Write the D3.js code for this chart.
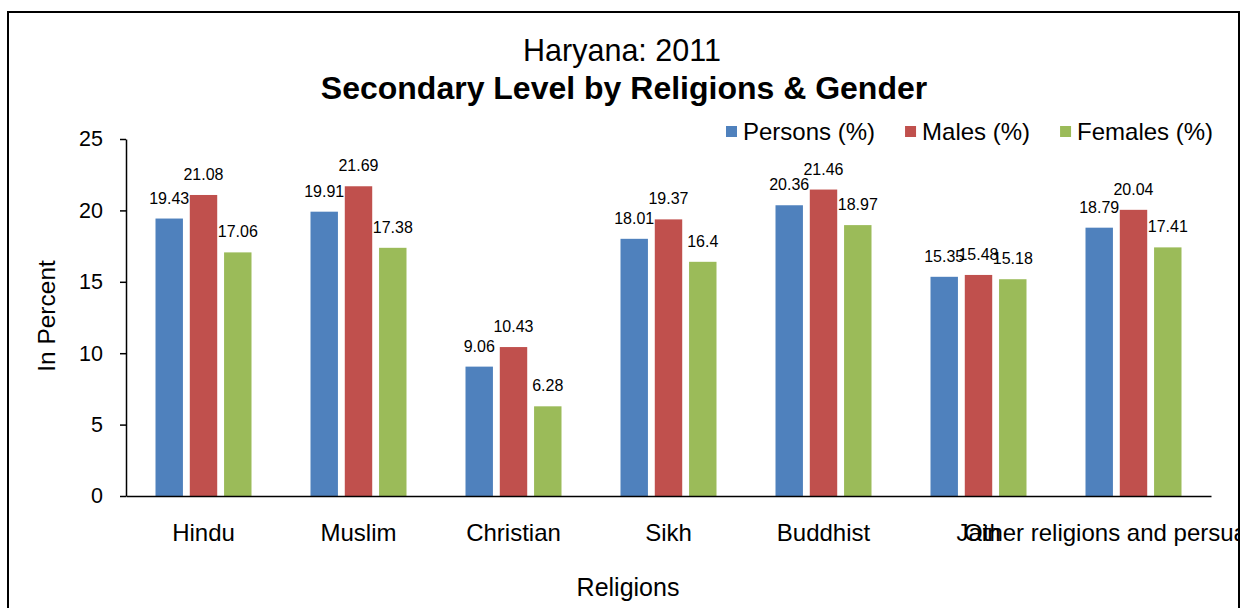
<!DOCTYPE html>
<html>
<head>
<meta charset="utf-8">
<script src="https://cdn.jsdelivr.net/npm/d3@7"></script>
<style>
  html, body { margin: 0; padding: 0; background: #fff; }
  svg { display: block; font-family: "Liberation Sans", Arial, sans-serif; }
</style>
</head>
<body>
<svg id="chart" width="1248" height="608"></svg>
<script>
// Secondary level attainment by religion and gender, Haryana 2011
const religions = ["Hindu", "Muslim", "Christian", "Sikh", "Buddhist", "Jain", "Other religions and persuasions"];
const seriesNames = ["Persons (%)", "Males (%)", "Females (%)"];
const persons = [19.43, 19.91, 9.06, 18.01, 20.36, 15.35, 18.79];
const males   = [21.08, 21.69, 10.43, 19.37, 21.46, 15.48, 20.04];
const females = [17.06, 17.38, 6.28, 16.4, 18.97, 15.18, 17.41];
const yTicks = [0, 5, 10, 15, 20, 25];
const colors = ["#4F81BD", "#C0504D", "#9BBB59"];

const seriesValues = [persons, males, females];

const svg = d3.select("#chart");

// outer frame
svg.append("rect")
  .attr("x", 8).attr("y", 12)
  .attr("width", 1231).attr("height", 640)
  .attr("fill", "#fff").attr("stroke", "#000").attr("stroke-width", 2);

svg.append("defs").append("clipPath").attr("id", "frame-clip")
  .append("rect").attr("x", 9).attr("y", -600).attr("width", 1229).attr("height", 1300);

const plot = { left: 126, right: 1211, top: 139, bottom: 496 };

const x0 = d3.scaleBand().domain(religions).range([plot.left, plot.right]).padding(0);
const x1 = d3.scaleBand().domain(seriesNames)
  .range([(x0.bandwidth() - 96) / 2, (x0.bandwidth() + 96) / 2])
  .paddingInner(0.2);
const y = d3.scaleLinear().domain([0, 25]).range([plot.bottom, plot.top]);

// titles
svg.append("text")
  .attr("x", 622).attr("y", 61)
  .attr("text-anchor", "middle")
  .attr("font-size", 30.5)
  .text("Haryana: 2011");
svg.append("text")
  .attr("x", 624).attr("y", 99)
  .attr("text-anchor", "middle")
  .attr("font-size", 32).attr("font-weight", "bold")
  .text("Secondary Level by Religions & Gender");

// bars
const groups = svg.append("g").selectAll("g")
  .data(religions)
  .join("g")
  .attr("transform", d => `translate(${x0(d)},0)`);

groups.each(function(rel, i) {
  const g = d3.select(this);
  seriesNames.forEach((s, k) => {
    const v = seriesValues[k][i];
    g.append("rect")
      .attr("x", x1(s))
      .attr("y", y(v))
      .attr("width", x1.bandwidth())
      .attr("height", y(0) - y(v))
      .attr("fill", colors[k]);
  });
  seriesNames.forEach((s, k) => {
    const v = seriesValues[k][i];
    g.append("text")
      .attr("x", x1(s) + x1.bandwidth() / 2)
      .attr("y", y(v) - 15)
      .attr("text-anchor", "middle")
      .attr("font-size", 16)
      .attr("fill", "#000")
      .text(String(v));
  });
});

// y axis
const yAxis = svg.append("g")
  .attr("transform", `translate(${plot.left},0)`)
  .call(d3.axisLeft(y).tickValues(yTicks).tickSize(6).tickSizeOuter(0).tickPadding(17));
yAxis.select(".domain").attr("stroke", "#000").attr("stroke-width", 1.5);
yAxis.selectAll(".tick line").attr("stroke", "#000").attr("stroke-width", 1.5);
yAxis.selectAll(".tick text")
  .attr("font-size", 21.5).attr("fill", "#000")
  .attr("font-family", "'Liberation Sans', Arial, sans-serif");

// x axis
const xAxis = svg.append("g")
  .attr("transform", `translate(0,${plot.bottom})`)
  .attr("clip-path", "url(#frame-clip)")
  .call(d3.axisBottom(x0).tickSize(0).tickSizeOuter(0).tickPadding(0));
xAxis.select(".domain").attr("stroke", "#000").attr("stroke-width", 1.5);
xAxis.selectAll(".tick text")
  .attr("font-size", 24).attr("fill", "#000")
  .attr("font-family", "'Liberation Sans', Arial, sans-serif")
  .attr("dy", null)
  .attr("y", 45);

// axis titles
svg.append("text")
  .attr("x", 628).attr("y", 596)
  .attr("text-anchor", "middle")
  .attr("font-size", 25)
  .text("Religions");
svg.append("text")
  .attr("transform", "translate(55,316) rotate(-90)")
  .attr("text-anchor", "middle")
  .attr("font-size", 24.5)
  .text("In Percent");

// legend
const legend = svg.append("g");
let lx = 726;
seriesNames.forEach((s, k) => {
  legend.append("rect")
    .attr("x", lx).attr("y", 126)
    .attr("width", 11).attr("height", 11)
    .attr("fill", colors[k]);
  const t = legend.append("text")
    .attr("x", lx + 17).attr("y", 140)
    .attr("font-size", 24)
    .text(s);
  lx += 17 + t.node().getComputedTextLength() + 30;
});
</script>
</body>
</html>
